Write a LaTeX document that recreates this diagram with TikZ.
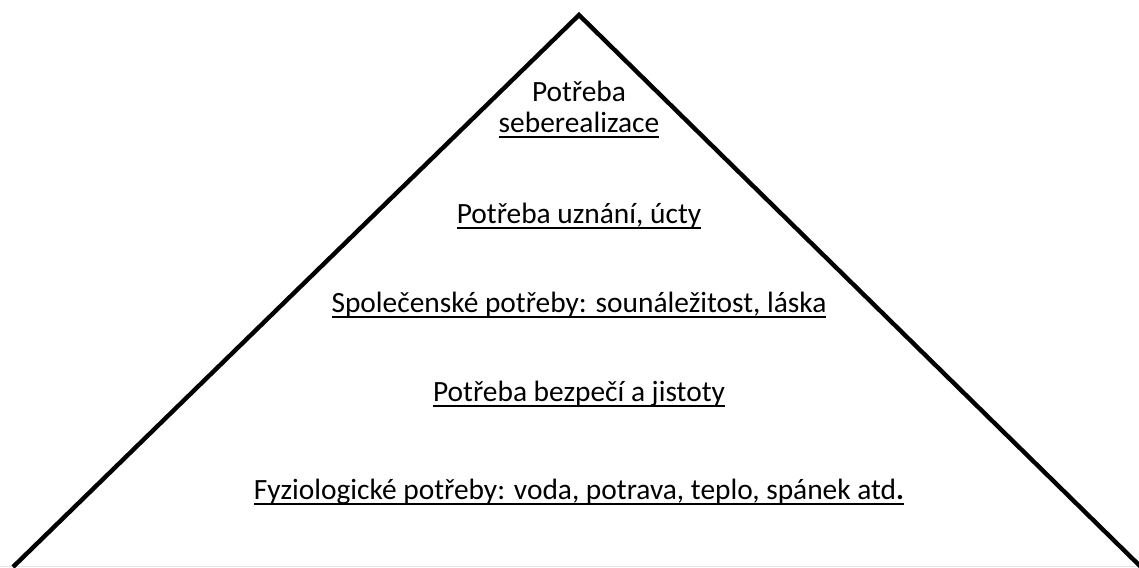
\documentclass[tikz,border=0pt]{standalone}
\usepackage{fontspec}
\setmainfont{Carlito}
\usetikzlibrary{calc}

\newsavebox\ulbox
\newcommand\ulin[1]{\sbox\ulbox{#1}\rlap{\rule[-5.5pt]{\wd\ulbox}{2pt}}\usebox\ulbox}

\begin{document}
\begin{tikzpicture}[x=1pt, y=-1pt
        , every node/.style={inner sep=0pt}
        , level/.style={anchor=base, font=\fontsize{29.4}{35}\selectfont}
    ]
    \useasboundingbox (0,0) rectangle (1139,567);

    \coordinate (top) at (579,15);
    \coordinate (left) at (13,567);
    \coordinate (right) at (1141,567);

    % faint floor line
    \draw[gray!20, line width=1pt] (0,566) -- (1139,566);

    % the pyramid sides
    \draw[line width=4.4pt, line join=miter] (left) -- (top) -- (right);

    % levels, top down
    \node[level] (selfA) at (579,102) {Potřeba};
    \node[level] (selfB) at (579,132) {\ulin{seberealizace}};
    \node[level] (esteem) at (579,223) {\ulin{Potřeba uznání, úcty}};
    \node[level] (social) at (579,312) {\ulin{Společenské potřeby: sounáležitost, láska}};
    \node[level] (safety) at (579,401) {\ulin{Potřeba bezpečí a jistoty}};
    \node[level] (physio) at (579,499) {\ulin{Fyziologické potřeby: voda, potrava, teplo, spánek atd\textbf{.}}};
\end{tikzpicture}
\end{document}
